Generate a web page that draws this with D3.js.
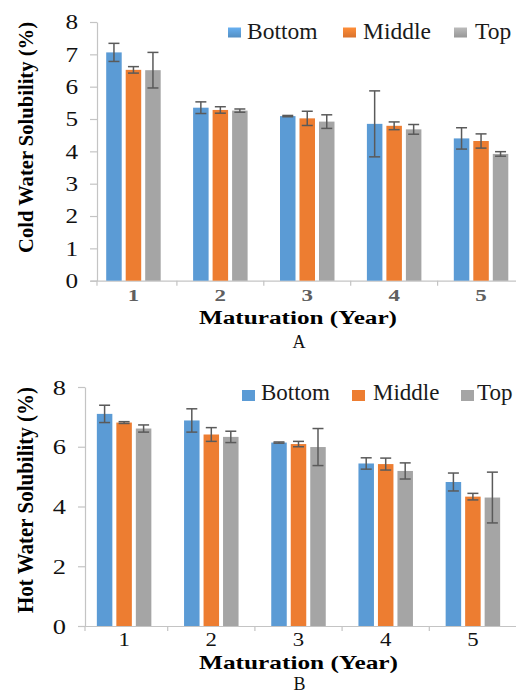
<!DOCTYPE html>
<html>
<head>
<meta charset="utf-8">
<script src="https://cdn.jsdelivr.net/npm/d3@7"></script>
<style>
  html, body { margin: 0; padding: 0; background: #fff; }
  svg { display: block; }
  text { font-family: "Liberation Serif", "Times New Roman", serif; }
</style>
</head>
<body>
<script>
// Maturation years and sample positions
const years = ["1", "2", "3", "4", "5"];
const series = ["Bottom", "Middle", "Top"];
const seriesColors = ["#5b9bd5", "#ed7d31", "#a5a5a5"];

// Cold water solubility (%) with standard deviations
const coldBottom = [7.06, 5.35, 5.09, 4.85, 4.40];
const coldMiddle = [6.52, 5.28, 5.02, 4.79, 4.32];
const coldTop    = [6.51, 5.26, 4.92, 4.68, 3.92];
const coldErrBottom = [0.28, 0.18, 0.02, 1.02, 0.33];
const coldErrMiddle = [0.10, 0.10, 0.22, 0.12, 0.22];
const coldErrTop    = [0.55, 0.05, 0.21, 0.15, 0.07];
const coldTicks = [0, 1, 2, 3, 4, 5, 6, 7, 8];

// Hot water solubility (%) with standard deviations
const hotBottom = [7.10, 6.88, 6.14, 5.44, 4.82];
const hotMiddle = [6.81, 6.41, 6.09, 5.42, 4.33];
const hotTop    = [6.61, 6.33, 5.99, 5.19, 4.30];
const hotErrBottom = [0.29, 0.39, 0.02, 0.19, 0.30];
const hotErrMiddle = [0.03, 0.23, 0.09, 0.20, 0.11];
const hotErrTop    = [0.12, 0.19, 0.62, 0.27, 0.85];
const hotTicks = [0, 2, 4, 6, 8];

const W = 516, H = 695;
const svg = d3.select("body").append("svg")
  .attr("width", W).attr("height", H)
  .attr("viewBox", `0 0 ${W} ${H}`);

// gradient fills for the framed legend keys of the first panel
const defs = svg.append("defs");
seriesColors.forEach((c, i) => {
  const g = defs.append("linearGradient").attr("id", "key" + i)
    .attr("x1", 0).attr("y1", 0).attr("x2", 0).attr("y2", 1);
  g.append("stop").attr("offset", "0%").attr("stop-color", d3.color(c).brighter(0.35));
  g.append("stop").attr("offset", "100%").attr("stop-color", d3.color(c).darker(0.25));
});

function drawPanel(cfg) {
  const g = svg.append("g");
  const values = [cfg.bottom, cfg.middle, cfg.top];
  const errs = [cfg.errBottom, cfg.errMiddle, cfg.errTop];

  const x = d3.scaleBand().domain(years).range(cfg.xRange).paddingInner(0).paddingOuter(0);
  const xs = d3.scaleBand().domain(series).range([-27.25, 27.25]).paddingInner(0.205);
  const y = d3.scaleLinear().domain([0, 8]).range(cfg.yRange);

  // y axis
  const yAxis = g.append("g")
    .attr("transform", `translate(${cfg.axisX},0)`)
    .call(d3.axisLeft(y).tickValues(cfg.ticks).tickSize(7).tickSizeOuter(0).tickFormat(d3.format("d")));
  yAxis.select(".domain").attr("stroke", "#c4c4c4").attr("stroke-width", 1.2);
  yAxis.selectAll(".tick line").attr("stroke", "#c4c4c4").attr("stroke-width", 1.2);
  yAxis.selectAll(".tick text")
    .attr("font-size", cfg.yTickSize)
    .attr("fill", "#111")
    .attr("x", -19 / 1.2)
    .attr("transform", "scale(1.2,1)");

  // x axis: category labels at band centres, tick marks between groups
  const xAxis = g.append("g")
    .attr("transform", `translate(0,${y(0)})`)
    .call(d3.axisBottom(x).tickSize(0).tickPadding(0));
  xAxis.select(".domain").attr("stroke", "#c4c4c4").attr("stroke-width", 1.2);
  xAxis.selectAll(".tick text")
    .attr("font-size", cfg.xTickSize)
    .attr("font-weight", cfg.xTickWeight)
    .attr("fill", cfg.xTickColor)
    .attr("dy", 0)
    .attr("y", cfg.xTickY)
    .attr("transform", `scale(${cfg.xTickScale},1)`);
  g.append("g").selectAll("line")
    .data(years.slice(1))
    .join("line")
    .attr("x1", d => x(d)).attr("x2", d => x(d))
    .attr("y1", y(0)).attr("y2", y(0) + 5)
    .attr("stroke", "#c4c4c4").attr("stroke-width", 1.2);
  g.append("line")
    .attr("x1", cfg.axisX).attr("x2", cfg.axisX)
    .attr("y1", y(0)).attr("y2", y(0) + 5)
    .attr("stroke", "#c4c4c4").attr("stroke-width", 1.2);

  // bars
  const rows = [];
  years.forEach((yr, i) => series.forEach((s, k) => {
    rows.push({ yr, s, k, v: values[k][i], e: errs[k][i] });
  }));
  g.append("g").selectAll("rect")
    .data(rows)
    .join("rect")
    .attr("x", d => x(d.yr) + x.bandwidth() / 2 + xs(d.s))
    .attr("width", xs.bandwidth())
    .attr("y", d => y(d.v))
    .attr("height", d => y(0) - y(d.v))
    .attr("fill", d => seriesColors[d.k]);

  // error bars
  const eg = g.append("g").attr("stroke", "#5a5a5a").attr("stroke-width", 1.5).attr("fill", "none");
  rows.forEach(d => {
    const cx = x(d.yr) + x.bandwidth() / 2 + xs(d.s) + xs.bandwidth() / 2;
    const hi = y(d.v + d.e), lo = y(d.v - d.e);
    eg.append("line").attr("x1", cx).attr("x2", cx).attr("y1", hi).attr("y2", lo);
    eg.append("line").attr("x1", cx - 5.5).attr("x2", cx + 5.5).attr("y1", hi).attr("y2", hi);
    eg.append("line").attr("x1", cx - 5.5).attr("x2", cx + 5.5).attr("y1", lo).attr("y2", lo);
  });

  // axis titles
  g.append("text")
    .attr("transform", `translate(${cfg.yTitleX},${cfg.yTitleY}) rotate(-90)`)
    .attr("text-anchor", "middle")
    .attr("font-size", cfg.yTitleSize)
    .attr("font-weight", "bold")
    .attr("fill", "#000")
    .attr("textLength", cfg.yTitleLen)
    .attr("lengthAdjust", "spacingAndGlyphs")
    .text(cfg.yTitle);
  g.append("text")
    .attr("x", cfg.xTitleX).attr("y", cfg.xTitleY)
    .attr("text-anchor", "middle")
    .attr("font-size", cfg.xTitleSize)
    .attr("font-weight", "bold")
    .attr("fill", "#000")
    .attr("textLength", cfg.xTitleLen)
    .attr("lengthAdjust", "spacingAndGlyphs")
    .text("Maturation (Year)");
  g.append("text")
    .attr("x", cfg.xTitleX + 1).attr("y", cfg.letterY)
    .attr("text-anchor", "middle")
    .attr("font-size", cfg.letterSize)
    .attr("fill", "#111")
    .text(cfg.letter);

  // legend
  const lg = g.append("g");
  series.forEach((s, k) => {
    lg.append("rect")
      .attr("x", cfg.legendKeyX[k]).attr("y", cfg.legendKeyY)
      .attr("width", cfg.legendKeyW).attr("height", cfg.legendKeyH)
      .attr("fill", cfg.legendGradient ? `url(#key${k})` : seriesColors[k]);
    lg.append("text")
      .attr("x", cfg.legendTextX[k]).attr("y", cfg.legendBaseline)
      .attr("font-size", cfg.legendSize)
      .attr("fill", "#1a1a1a")
      .text(s);
  });
}

drawPanel({
  bottom: coldBottom, middle: coldMiddle, top: coldTop,
  errBottom: coldErrBottom, errMiddle: coldErrMiddle, errTop: coldErrTop,
  ticks: coldTicks,
  xRange: [90, 524.5], yRange: [280.7, 22], axisX: 97,
  yTickSize: 21, xTickSize: 17, xTickWeight: "bold", xTickColor: "#5f5f5f", xTickY: 20.8, xTickScale: 1.35,
  yTitle: "Cold Water Solubility (%)", yTitleX: 33, yTitleY: 137.5, yTitleSize: 22, yTitleLen: 231,
  xTitleX: 298, xTitleY: 324, xTitleSize: 18, xTitleLen: 198,
  letter: "A", letterY: 348, letterSize: 18,
  legendKeyX: [228, 343, 454], legendKeyY: 27.5, legendKeyW: 13, legendKeyH: 10, legendGradient: true,
  legendTextX: [247, 363, 475], legendBaseline: 39, legendSize: 23.5
});

drawPanel({
  bottom: hotBottom, middle: hotMiddle, top: hotTop,
  errBottom: hotErrBottom, errMiddle: hotErrMiddle, errTop: hotErrTop,
  ticks: hotTicks,
  xRange: [80.5, 516.5], yRange: [626, 387], axisX: 85,
  yTickSize: 22, xTickSize: 19, xTickWeight: "normal", xTickColor: "#111", xTickY: 20.5, xTickScale: 1.2,
  yTitle: "Hot Water Solubility (%)", yTitleX: 33, yTitleY: 500, yTitleSize: 23, yTitleLen: 226,
  xTitleX: 298.5, xTitleY: 669, xTitleSize: 19, xTitleLen: 199,
  letter: "B", letterY: 690, letterSize: 18,
  legendKeyX: [242, 352, 461], legendKeyY: 390, legendKeyW: 13, legendKeyH: 11, legendGradient: false,
  legendTextX: [261, 373, 477], legendBaseline: 400, legendSize: 23
});
</script>
</body>
</html>
